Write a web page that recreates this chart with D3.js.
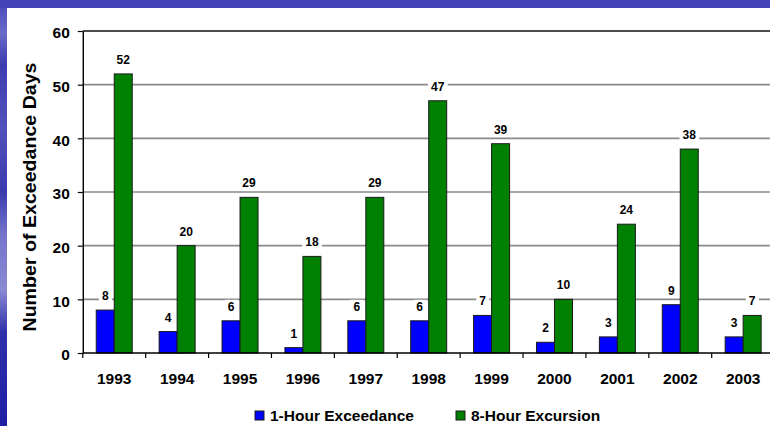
<!DOCTYPE html>
<html>
<head>
<meta charset="utf-8">
<script src="https://cdn.jsdelivr.net/npm/d3@7"></script>
<style>
  html, body { margin: 0; padding: 0; background: #fff; }
  svg { display: block; font-family: "Liberation Sans", Arial, sans-serif; }
</style>
</head>
<body>
<svg id="chart" width="770" height="426"></svg>
<script>
const years = ["1993","1994","1995","1996","1997","1998","1999","2000","2001","2002","2003"];
const oneHour = [8,4,6,1,6,6,7,2,3,9,3];
const eightHour = [52,20,29,18,29,47,39,10,24,38,7];
const seriesNames = ["1-Hour Exceedance","8-Hour Excursion"];
const seriesColors = ["#0000FF","#008000"];
const yTicks = [0,10,20,30,40,50,60];

const svg = d3.select("#chart");

// slide background
const defs = svg.append("defs");
const lg = defs.append("linearGradient").attr("id","leftband").attr("x1",0).attr("y1",0).attr("x2",0).attr("y2",1);
[["0%","#4848b8"],["8%","#6a6ac8"],["15%","#3c3cb0"],["30%","#5252bc"],["45%","#3a3aae"],["55%","#7474cc"],["68%","#8a8ad4"],["78%","#3030aa"],["100%","#1e1ea6"]]
  .forEach(([o,c]) => lg.append("stop").attr("offset",o).attr("stop-color",c));
svg.append("rect").attr("x",0).attr("y",0).attr("width",770).attr("height",426).attr("fill","url(#leftband)");
svg.append("rect").attr("x",0).attr("y",0).attr("width",770).attr("height",8).attr("fill","#4343b9");
svg.append("rect").attr("x",7).attr("y",8).attr("width",763).attr("height",418).attr("fill","#ffffff");

const x0 = d3.scaleBand().domain(years).range([82.8, 774.6]).padding(0);
const y = d3.scaleLinear().domain([0,60]).range([353,31]);
const barW = 18;

// gridlines
svg.append("g").selectAll("line").data(yTicks.filter(t => t > 0 && t < 60)).join("line")
  .attr("x1",82.8).attr("x2",774.6).attr("y1",d=>y(d)).attr("y2",d=>y(d))
  .attr("stroke","#8a8a8a").attr("stroke-width",1.6);
svg.append("line").attr("x1",82.8).attr("x2",774.6).attr("y1",y(60)).attr("y2",y(60))
  .attr("stroke","#111").attr("stroke-width",1.4);

// bars
years.forEach((yr, i) => {
  const cx = x0(yr) + x0.bandwidth()/2;
  [oneHour[i], eightHour[i]].forEach((v, s) => {
    const bx = s === 0 ? cx - barW : cx;
    svg.append("rect").attr("x",bx).attr("y",y(v)).attr("width",barW).attr("height",y(0)-y(v))
      .attr("fill",seriesColors[s]).attr("stroke","#1a1a1a").attr("stroke-width",1);
  });
});

// value labels with white background
years.forEach((yr, i) => {
  const cx = x0(yr) + x0.bandwidth()/2;
  [oneHour[i], eightHour[i]].forEach((v, s) => {
    const lx = s === 0 ? cx - barW/2 : cx + barW/2;
    const g = svg.append("g");
    const t = g.append("text").attr("x",lx).attr("y",y(v)-10).attr("text-anchor","middle")
      .attr("font-size","12px").attr("font-weight","bold").attr("fill","#000").text(v);
    const bb = t.node().getBBox();
    g.insert("rect","text").attr("x",bb.x-3).attr("y",bb.y).attr("width",bb.width+6).attr("height",bb.height).attr("fill","#fff");
  });
});

// axes
const yAxis = d3.axisLeft(y).tickValues(yTicks).tickSize(5).tickSizeOuter(0).tickPadding(8);
const ya = svg.append("g").attr("transform","translate(82.8,0)").call(yAxis);
ya.select(".domain").attr("stroke","#000").attr("stroke-width",1.4);
ya.selectAll(".tick line").attr("stroke","#000").attr("stroke-width",1.2);
ya.selectAll(".tick text").attr("font-size","15.5px").attr("font-weight","bold").attr("fill","#000")
  .attr("font-family","Liberation Sans, Arial, sans-serif").attr("dy","0.45em");

const xa = svg.append("g").attr("transform",`translate(0,${y(0)})`);
xa.append("line").attr("x1",82.8).attr("x2",774.6).attr("y1",0).attr("y2",0).attr("stroke","#000").attr("stroke-width",1.4);
const bounds = years.map(yr => x0(yr)).concat([x0.range()[1]]);
xa.selectAll("line.tk").data(bounds).join("line").attr("class","tk")
  .attr("x1",d=>d).attr("x2",d=>d).attr("y1",0).attr("y2",5).attr("stroke","#000").attr("stroke-width",1.2);
xa.selectAll("text").data(years).join("text")
  .attr("x",d=>x0(d)+x0.bandwidth()/2).attr("y",31).attr("text-anchor","middle")
  .attr("font-size","15.5px").attr("font-weight","bold").attr("fill","#000").text(d=>d);

// y axis title
svg.append("text").attr("transform","translate(36,197) rotate(-90)").attr("text-anchor","middle")
  .attr("font-size","17.5px").attr("font-weight","bold").attr("fill","#000")
  .attr("textLength",269).attr("lengthAdjust","spacingAndGlyphs")
  .text("Number of Exceedance Days");

// legend
const legX = [255, 456];
seriesNames.forEach((n, s) => {
  svg.append("rect").attr("x",legX[s]).attr("y",411).attr("width",9).attr("height",9)
    .attr("fill",seriesColors[s]).attr("stroke","#1a1a1a").attr("stroke-width",1);
  svg.append("text").attr("x",legX[s]+15).attr("y",420.5).attr("font-size","15.5px").attr("font-weight","bold")
    .attr("fill","#000").text(n);
});
</script>
</body>
</html>
